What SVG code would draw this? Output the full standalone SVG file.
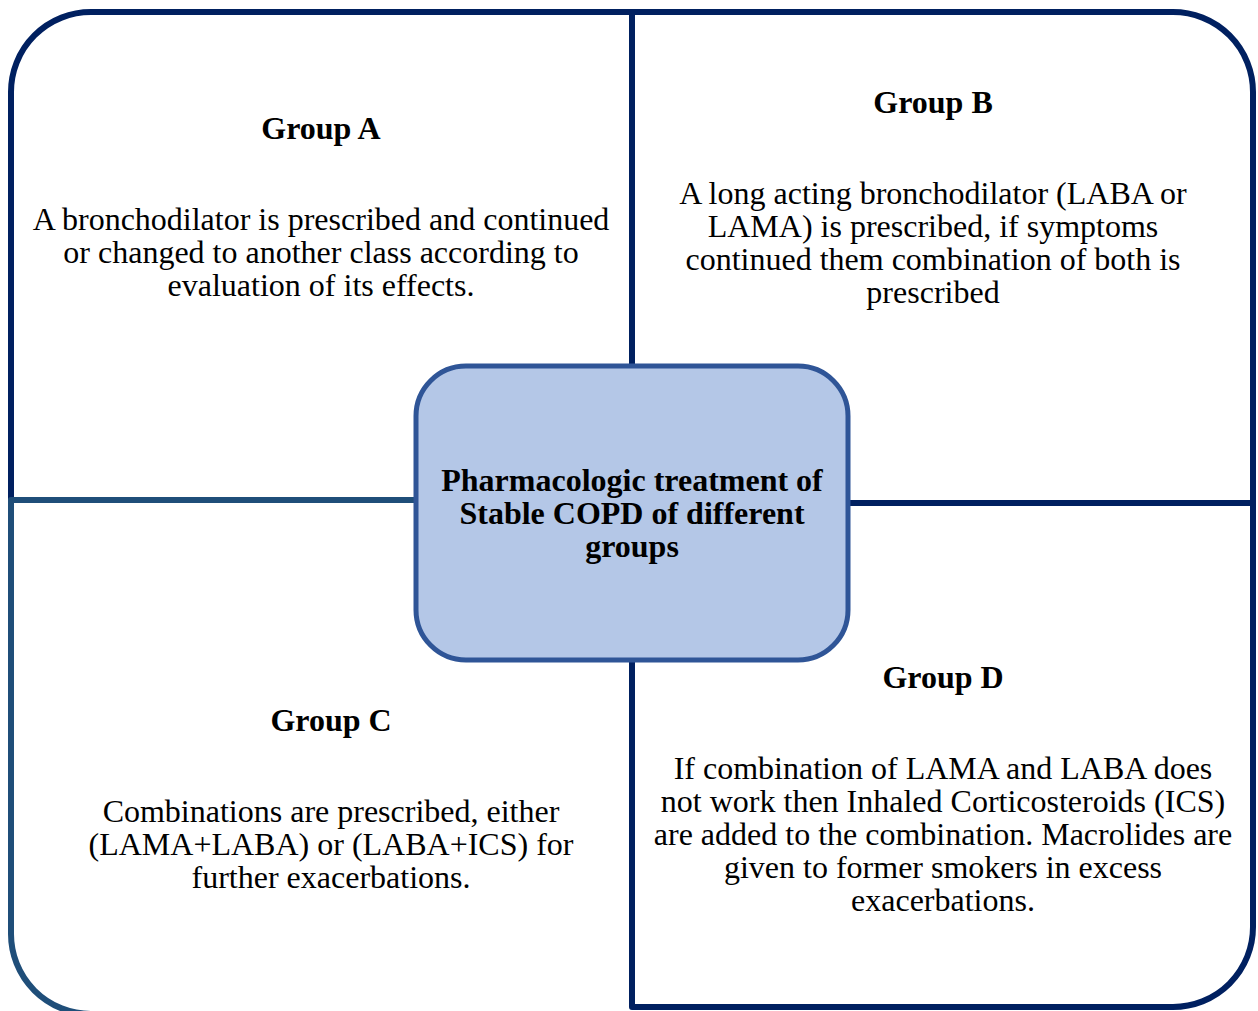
<svg xmlns="http://www.w3.org/2000/svg" width="1258" height="1011" viewBox="0 0 1258 1011">
<style>
.q{fill:none;stroke-width:6;stroke-linejoin:round}
.navy{stroke:#002060}
.blue{stroke:#1F4E79}
text{font-family:"Liberation Serif","Times New Roman",serif;font-size:32px;fill:#000;text-anchor:middle}
.t{font-weight:bold}
</style>
<rect width="1258" height="1011" fill="#fff"/>
<g id="connectors">
<path id="group-a-frame" class="q navy" d="M11,500 V92 A80,80 0 0 1 91,12 H632 V366"/>
<path id="group-b-frame" class="q navy" d="M632,12 H1173 A80,80 0 0 1 1253,92 V503 H848"/>
<path id="group-d-frame" class="q navy" d="M632,660 V1007 H1173 A80,80 0 0 0 1253,927 V503"/>
<path id="group-c-frame" class="q blue" d="M416,500 H11 V934 A80,80 0 0 0 91,1014 H632"/>
</g>
<g id="center">
<rect x="416" y="366" width="432" height="294" rx="50" ry="50" fill="#B4C7E7" stroke="#2F5597" stroke-width="5"/>
<text class="t" x="632" y="491">Pharmacologic treatment of</text>
<text class="t" x="632" y="524">Stable COPD of different</text>
<text class="t" x="632" y="557">groups</text>
</g>
<g id="group-a">
<text class="t" x="321" y="139">Group A</text>
<text x="321" y="230">A bronchodilator is prescribed and continued</text>
<text x="321" y="263">or changed to another class according to</text>
<text x="321" y="296">evaluation of its effects.</text>
</g>
<g id="group-b">
<text class="t" x="933" y="113">Group B</text>
<text x="933" y="204">A long acting bronchodilator (LABA or</text>
<text x="933" y="237">LAMA) is prescribed, if symptoms</text>
<text x="933" y="270">continued them combination of both is</text>
<text x="933" y="303">prescribed</text>
</g>
<g id="group-c">
<text class="t" x="331" y="731">Group C</text>
<text x="331" y="822">Combinations are prescribed, either</text>
<text x="331" y="855">(LAMA+LABA) or (LABA+ICS) for</text>
<text x="331" y="888">further exacerbations.</text>
</g>
<g id="group-d">
<text class="t" x="943" y="688">Group D</text>
<text x="943" y="779">If combination of LAMA and LABA does</text>
<text x="943" y="812">not work then Inhaled Corticosteroids (ICS)</text>
<text x="943" y="845">are added to the combination. Macrolides are</text>
<text x="943" y="878">given to former smokers in excess</text>
<text x="943" y="911">exacerbations.</text>
</g>
</svg>
